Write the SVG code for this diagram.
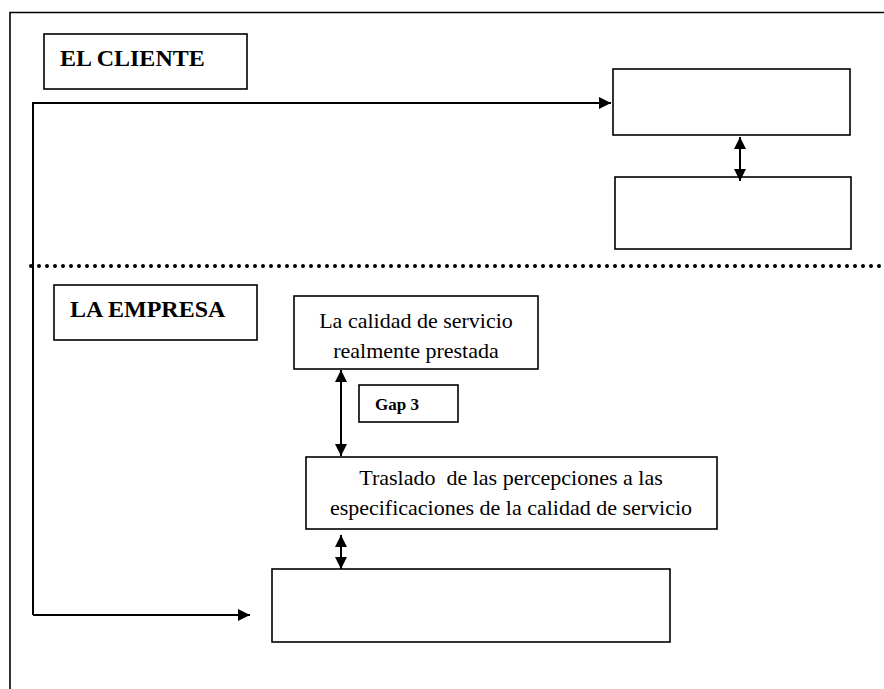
<svg xmlns="http://www.w3.org/2000/svg" width="884" height="689" viewBox="0 0 884 689">
<style>
.box{fill:#fff;stroke:#000;stroke-width:1.6}
.ln{fill:none;stroke:#000;stroke-width:2}
.t{font-family:"Liberation Serif","Times New Roman",serif;fill:#000}
.c{font-size:22px;text-anchor:middle}
.b{font-weight:bold}
</style>
<defs>
<marker id="ah" viewBox="0 0 10 10" refX="10" refY="5" markerWidth="6" markerHeight="6" orient="auto-start-reverse" markerUnits="strokeWidth">
<path d="M0,0 L10,5 L0,10 Z" fill="#000"/>
</marker>
</defs>
<rect width="884" height="689" fill="#fff"/>
<path d="M10,689 V12.5 H884" fill="none" stroke="#000" stroke-width="1.6"/>
<line x1="31" y1="266" x2="884" y2="266" stroke="#000" stroke-width="4" stroke-linecap="round" stroke-dasharray="0 8"/>
<g id="el-cliente"><rect class="box" x="44" y="34" width="203" height="55"/><text class="t b" x="60" y="66" font-size="24">EL CLIENTE</text></g>
<g id="box-top1"><rect class="box" x="613" y="69" width="237" height="66"/></g>
<g id="box-top2"><rect class="box" x="615" y="177" width="236" height="72"/></g>
<g id="la-empresa"><rect class="box" x="54" y="285" width="203" height="55"/><text class="t b" x="70" y="317" font-size="24">LA EMPRESA</text></g>
<g id="calidad"><rect class="box" x="294" y="296" width="244" height="73"/><text class="t c" x="416" y="328">La calidad de servicio</text><text class="t c" x="416" y="358">realmente prestada</text></g>
<g id="gap3"><rect class="box" x="359" y="385" width="99" height="37"/><text class="t b" x="375" y="410" font-size="17">Gap 3</text></g>
<g id="traslado"><rect class="box" x="306" y="457" width="411" height="72"/><text class="t c" x="511" y="485" xml:space="preserve">Traslado  de las percepciones a las</text><text class="t c" x="511" y="515">especificaciones de la calidad de servicio</text></g>
<g id="box-bottom"><rect class="box" x="272" y="569" width="398" height="73"/></g>
<g id="connectors">
<path class="ln" d="M33,615 V103 H611" marker-end="url(#ah)"/>
<path class="ln" d="M33,615 H250" marker-end="url(#ah)"/>
<line class="ln" x1="740" y1="137" x2="740" y2="181" marker-start="url(#ah)" marker-end="url(#ah)"/>
<line class="ln" x1="341" y1="370" x2="341" y2="456" marker-start="url(#ah)" marker-end="url(#ah)"/>
<line class="ln" x1="341" y1="535" x2="341" y2="569" marker-start="url(#ah)" marker-end="url(#ah)"/>
</g>
</svg>
